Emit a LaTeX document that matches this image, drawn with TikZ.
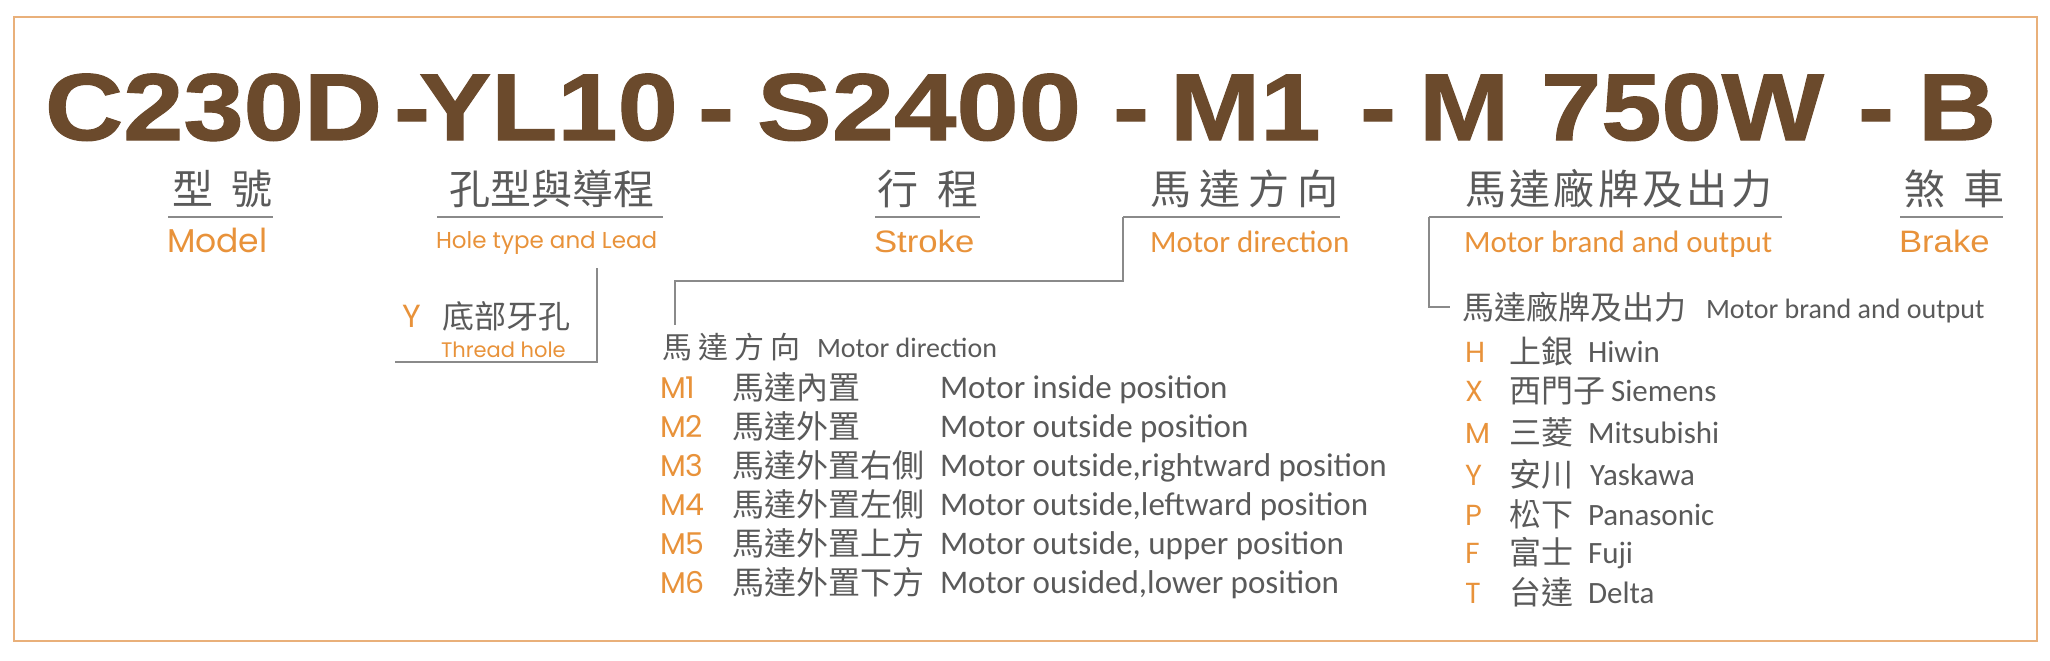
\documentclass[tikz,border=0pt]{standalone}
\usepackage{fontspec}
\newfontfamily\titlefont[FakeStretch=1.14,FakeBold=1.2]{Liberation Sans Bold}
\newfontfamily\cjk{Noto Sans CJK TC}
\newfontfamily\geo{Poppins}
\newfontfamily\cond{Carlito}
\newfontfamily\helv[FakeStretch=1.12]{Liberation Sans}
\definecolor{brn}{HTML}{6B4A2C}
\definecolor{orng}{HTML}{E8923A}
\definecolor{txtg}{HTML}{5A5A5A}
\definecolor{lineg}{HTML}{8A8A8A}
\definecolor{frm}{HTML}{E9B07A}
\tikzset{
  lbl/.style={inner sep=0pt, outer sep=0pt, anchor=base west},
  ttl/.style={lbl, text=brn, font={\titlefont\fontsize{47.5pt}{50pt}\selectfont}},
  cjkh/.style={lbl, text=txtg, font={\cjk\fontsize{20.5pt}{24pt}\selectfont}},
  cjkl/.style={lbl, text=txtg, font={\cjk\fontsize{16pt}{19pt}\selectfont}},
  cjks/.style={lbl, text=txtg, font={\cjk\fontsize{15pt}{18pt}\selectfont}},
  geoh/.style={lbl, text=orng, font={\geo\fontsize{16.5pt}{19pt}\selectfont}},
  geos/.style={lbl, text=orng, font={\geo\fontsize{11.5pt}{14pt}\selectfont}},
  geot/.style={lbl, text=orng, font={\geo\fontsize{10.5pt}{13pt}\selectfont}},
  helvh/.style={lbl, text=orng, font={\helv\fontsize{15.5pt}{18pt}\selectfont}},
  condh/.style={lbl, text=orng, font={\cond\fontsize{15.5pt}{18pt}\selectfont}},
  condsub/.style={lbl, text=txtg, font={\cond\fontsize{14pt}{17pt}\selectfont}},
  condl/.style={lbl, text=txtg, font={\cond\fontsize{16.5pt}{19pt}\selectfont}},
  condb/.style={lbl, text=txtg, font={\cond\fontsize{15.5pt}{18pt}\selectfont}},
  code/.style={lbl, text=orng, font={\geo\fontsize{15pt}{18pt}\selectfont}},
  codeb/.style={lbl, text=orng, font={\geo\fontsize{14.5pt}{17pt}\selectfont}},
  uline/.style={draw=lineg, line width=1pt},
  brk/.style={draw=lineg, line width=0.75pt},
}
\begin{document}
\begin{tikzpicture}[x=0.5pt,y=-0.5pt]
\useasboundingbox (0,0) rectangle (2050,660);
\draw[draw=frm, line width=1pt] (14,17) rectangle (2037,641);

% title
\node[ttl] (t1) at (45,140) {C230D};
\node[ttl] (t2) at (394,140) {-};
\node[ttl] (t2b) at (419,140) {YL10};
\node[ttl] (t3) at (698,140) {-};
\node[ttl] (t4) at (757,140) {\scalebox{1.035}[1]{S2400}};
\node[ttl] (t5) at (1113,140) {-};
\node[ttl] (t6) at (1170,140) {M1};
\node[ttl] (t7) at (1360,140) {-};
\node[ttl] (t8) at (1419,140) {M};
\node[ttl] (t9) at (1541,140) {750W};
\node[ttl] (t10) at (1858,140) {-};
\node[ttl] (t11) at (1918,140) {B};

% header CJK
\node[cjkh] (h1) at (172,204) {型\kern9.5pt號};
\node[cjkh] (h2) at (449,204) {孔型與導程};
\node[cjkh] (h3) at (877,204) {行\kern10pt程};
\node[cjkh] (h4) at (1150,204) {馬\kern4pt達\kern4pt方\kern4pt向};
\node[cjkh] (h5) at (1465,204) {馬\kern1.7pt達\kern1.7pt廠\kern1.7pt牌\kern1.7pt及\kern1.7pt出\kern1.7pt力};
\node[cjkh] (h6) at (1904,204) {煞\kern9pt車};

% underlines
\coordinate (u1a) at (168,217); \coordinate (u1b) at (273,217);
\coordinate (u2a) at (437,217); \coordinate (u2b) at (663,217);
\coordinate (u3a) at (875,217); \coordinate (u3b) at (980,217);
\coordinate (u4a) at (1123,217); \coordinate (u4b) at (1340,217);
\coordinate (u5a) at (1429,217); \coordinate (u5b) at (1782,217);
\coordinate (u6a) at (1900,217); \coordinate (u6b) at (2003,217);
\draw[uline] (u1a) -- (u1b);
\draw[uline] (u2a) -- (u2b);
\draw[uline] (u3a) -- (u3b);
\draw[uline] (u4b) -- (u4a);
\draw[uline] (u5b) -- (u5a);
\draw[uline] (u6a) -- (u6b);

% header English
\node[geoh] (e1) at (167,252) {Model};
\node[geos] (e2) at (436,248) {Hole type and Lead};
\node[helvh] (e3) at (874,252) {Stroke};
\node[condh] (e4) at (1150,252) {Motor direction};
\node[condh] (e5) at (1464,252) {Motor brand and output};
\node[helvh] (e6) at (1899,252) {Brake};

% hole type bracket
\coordinate (b1) at (597,268); \coordinate (b2) at (597,362); \coordinate (b3) at (395,362);
\draw[brk] (b1) -- (b2) -- (b3);
\node[code, font={\geo\fontsize{16pt}{19pt}\selectfont}] (yc) at (402,327) {Y};
\node[cjkl] (yz) at (442,328) {底部牙孔};
\node[geot] (ye) at (441,357) {Thread hole};

% motor direction bracket
\coordinate (m1) at (1123,281); \coordinate (m2) at (675,281); \coordinate (m3) at (675,325);
\draw[brk] (u4a) -- (m1) -- (m2) -- (m3);
\node[cjks] (mdz) at (662,358) {馬\kern3pt達\kern3pt方\kern3pt向};
\node[condsub] (mde) at (817,357) {Motor direction};

\foreach \c/\z/\e/\y [count=\i] in {
  M1/馬達內置/Motor inside position/398,
  M2/馬達外置/Motor outside position/437,
  M3/馬達外置右側/{Motor outside,rightward position}/476,
  M4/馬達外置左側/{Motor outside,leftward position}/515,
  M5/馬達外置上方/{Motor outside, upper position}/554,
  M6/馬達外置下方/{Motor ousided,lower position}/593}{
  \node[code] (mc\i) at (660,\y) {\c};
  \node[cjkl] (mz\i) at (732,\y+1) {\z};
  \node[condl] (me\i) at (940,\y) {\e};
}

% motor brand bracket
\coordinate (n1) at (1429,307); \coordinate (n2) at (1450,307);
\draw[brk] (u5a) -- (n1) -- (n2);
\node[cjkl] (bhz) at (1462,319) {馬達廠牌及出力};
\node[condsub] (bhe) at (1706,318) {Motor brand and output};

\foreach \c/\z/\e/\y/\xe [count=\i] in {
  H/上銀/Hiwin/362/1588,
  X/西門子/Siemens/401/1611,
  M/三菱/Mitsubishi/443/1588,
  Y/安川/Yaskawa/485/1590,
  P/松下/Panasonic/525/1588,
  F/富士/Fuji/563/1588,
  T/台達/Delta/603/1588}{
  \node[codeb] (bc\i) at (1465,\y) {\c};
  \node[cjkl] (bz\i) at (1509,\y+1) {\z};
  \node[condb] (be\i) at (\xe,\y) {\e};
}
\end{tikzpicture}
\end{document}
